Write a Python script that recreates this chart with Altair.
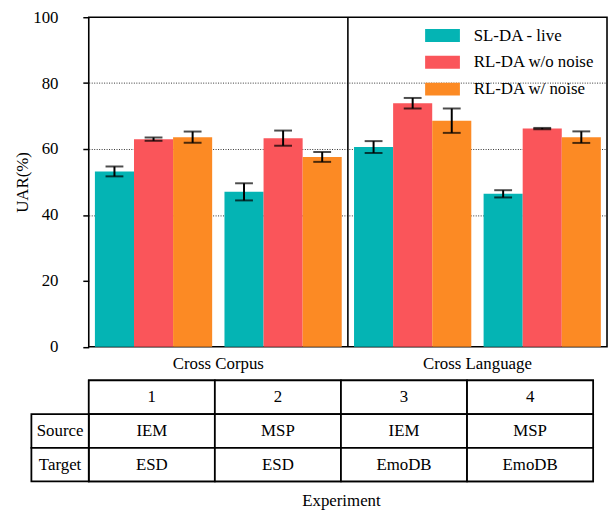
import altair as alt
import pandas as pd

# ---- data ----
EXPERIMENTS = ["1", "2", "3", "4"]
SOURCES = ["IEM", "MSP", "IEM", "MSP"]
TARGETS = ["ESD", "ESD", "EmoDB", "EmoDB"]
SETTINGS = ["Cross Corpus", "Cross Corpus", "Cross Language", "Cross Language"]
SERIES = ["SL-DA - live", "RL-DA w/o noise", "RL-DA w/ noise"]
SL_MEAN = [53.2, 47.0, 60.6, 46.4]
SL_ERR = [1.5, 2.6, 1.8, 1.1]
RL_MEAN = [63.0, 63.3, 73.9, 66.2]
RL_ERR = [0.5, 2.3, 1.6, 0.2]
RLN_MEAN = [63.6, 57.6, 68.6, 63.6]
RLN_ERR = [1.7, 1.5, 3.7, 1.75]
Y_TICKS = [0, 20, 40, 60, 80, 100]
ROW_NAMES = ["Experiment", "Source", "Target"]

COLORS = ["#04B4B4", "#FA555A", "#FC8A24"]
FONT = "'Liberation Serif', 'Times New Roman', Times, 'DejaVu Serif', serif"
FS = 17
W, H = 523, 332.5
TW, TH = 509, 102
LABEL_COL = 0.455  # width of the row-name column, in table-column units

means = [SL_MEAN, RL_MEAN, RLN_MEAN]
errs = [SL_ERR, RL_ERR, RLN_ERR]
rows = []
for s, m, e in zip(SERIES, means, errs):
    for i, exp in enumerate(EXPERIMENTS):
        rows.append({"exp": exp, "series": s, "uar": m[i],
                     "lo": m[i] - e[i], "hi": m[i] + e[i]})
df = pd.DataFrame(rows)

label_map = {}
for exp, st in zip(EXPERIMENTS, SETTINGS):
    if st not in label_map.values():
        label_map[exp] = st
label_expr = " : ".join(
    [f"datum.value == '{k}' ? '{v}'" for k, v in label_map.items()] + ["''"])

xenc = alt.X("exp:N",
             scale=alt.Scale(domain=EXPERIMENTS, paddingInner=0.095, paddingOuter=0.0475),
             axis=alt.Axis(title=None, labelExpr=label_expr, labelOffset=W / 8,
                           ticks=False, domain=False, labelAngle=0, labelFontSize=FS,
                           labelFont=FONT, labelPadding=8.5, labelColor="black"))
xoff = alt.XOffset("series:N", scale=alt.Scale(domain=SERIES, paddingInner=0, paddingOuter=0))

base = alt.Chart(df).encode(x=xenc, xOffset=xoff)

bars = base.mark_bar().encode(
    y=alt.Y("uar:Q", scale=alt.Scale(domain=[0, 100], nice=False),
            axis=alt.Axis(values=Y_TICKS, title="UAR(%)", tickSize=6, tickWidth=1.5,
                          tickColor="black", labelFontSize=FS, labelFont=FONT,
                          labelPadding=25, labelColor="black", titleFontSize=FS,
                          titleFont=FONT, titleFontWeight="normal",
                          titleColor="black", titlePadding=1.5, domain=False,
                          grid=True, gridColor="#333", gridDash=[1, 1.5], gridWidth=1,
                          gridOpacity={"condition": {"test": "datum.value >= 40 && datum.value <= 80", "value": 1}, "value": 0})),
    color=alt.Color("series:N", scale=alt.Scale(domain=SERIES, range=COLORS),
                    legend=alt.Legend(title=None, orient="none", legendX=348.5, legendY=10,
                                      symbolType="M-2.7,-1H2.7V1H-2.7Z", symbolSize=169,
                                      symbolStrokeWidth=0, labelFontSize=FS, labelFont=FONT,
                                      labelOffset=23, rowPadding=9, padding=0,
                                      labelColor="black")),
)
err_rule = base.mark_rule(color="black", strokeWidth=2).encode(y="lo:Q", y2="hi:Q")
err_lo = base.mark_tick(color="black", thickness=2, size=18).encode(y="lo:Q")
err_hi = base.mark_tick(color="black", thickness=2, size=18).encode(y="hi:Q")
sep = alt.Chart(pd.DataFrame({"d": [0]})).mark_rule(color="black", strokeWidth=1.6).encode(
    x=alt.value(W / 2), y=alt.value(0), y2=alt.value(H))

top = alt.layer(bars, err_rule, err_lo, err_hi, sep).properties(width=W, height=H)

# ---- table ----
cells = []
for i, exp in enumerate(EXPERIMENTS):
    for r, txt in zip(ROW_NAMES, [exp, SOURCES[i], TARGETS[i]]):
        cells.append({"row": r, "x0": i, "x1": i + 1, "xm": i + 0.5, "text": txt})
for r in ROW_NAMES[1:]:
    cells.append({"row": r, "x0": -LABEL_COL, "x1": 0, "xm": -LABEL_COL / 2, "text": r})
tdf = pd.DataFrame(cells)

tx = alt.X("x0:Q", scale=alt.Scale(domain=[0, 4], nice=False, zero=False),
           axis=alt.Axis(title="Experiment", labels=False, ticks=False, domain=False,
                         grid=False, titleFontSize=FS, titleFont=FONT,
                         titleFontWeight="normal", titleColor="black", titlePadding=11))
ty = alt.Y("row:N", scale=alt.Scale(domain=ROW_NAMES, paddingInner=0, paddingOuter=0), axis=None)
tbase = alt.Chart(tdf)
trect = tbase.mark_rect(fill="white", stroke="black", strokeWidth=1.8).encode(
    x=tx, x2="x1:Q", y=ty)
ttext = tbase.mark_text(fontSize=FS, font=FONT, color="black").encode(
    x=alt.X("xm:Q"), y=alt.Y("row:N"), text="text:N")
table = alt.layer(trect, ttext).properties(width=TW, height=TH)

chart = alt.vconcat(top, table, spacing=33.5, bounds="flush").properties(
    padding={"left": 4.5, "top": -3, "right": 0, "bottom": 0}
).configure(font=FONT).configure_view(stroke="black", strokeWidth=1.6)

chart.save("out.html", embed_options={"renderer": "svg", "actions": False})
